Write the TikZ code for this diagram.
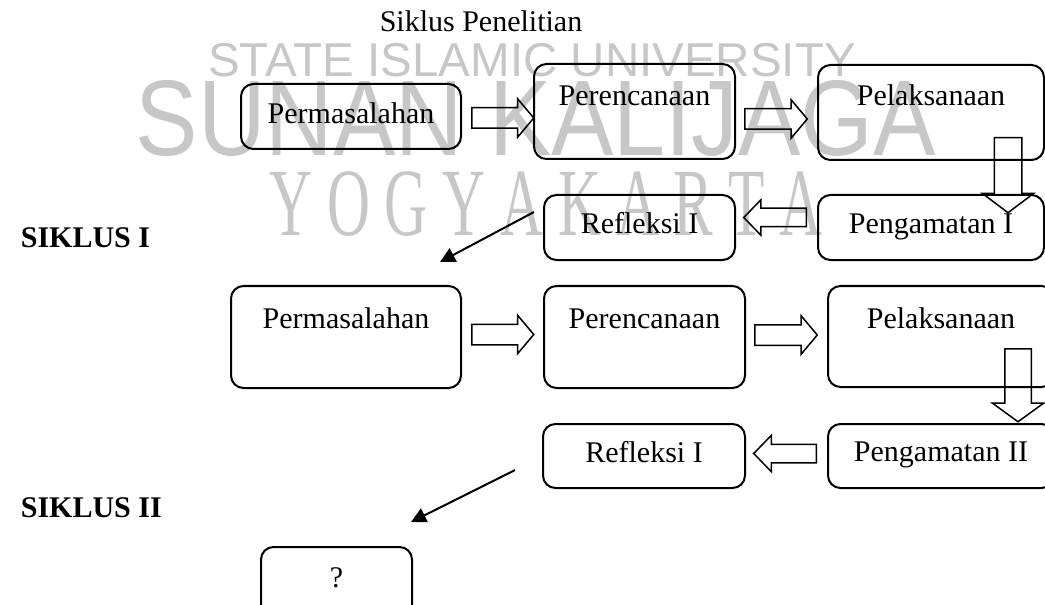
\documentclass[tikz,border=0pt]{standalone}
\usepackage{fontspec}
\setmainfont{Liberation Serif}
\newfontfamily\wmsans{Liberation Sans}
\usepackage{tikz}
\usetikzlibrary{arrows.meta, shapes.arrows}

\begin{document}
\begin{tikzpicture}[x=0.4pt, y=-0.4pt, font=\fontsize{12}{14}\selectfont,
  kotak/.style={draw, line width=0.8pt, rounded corners=5pt, inner sep=0pt, anchor=north west},
  blok/.style={single arrow, draw, line width=0.6pt, inner xsep=0pt, inner ysep=3.8pt, minimum width=0pt,
    minimum height=25pt, single arrow head extend=3.6pt, single arrow tip angle=100, anchor=tail},
  panah/.style={-{Triangle[length=6pt, width=6pt]}, line width=0.8pt},
  tanda/.style={text=black!22}]
  \useasboundingbox (0,0) rectangle (1045,605);

  % watermark
  \node[tanda, font=\wmsans\fontsize{19}{19}\selectfont] (wm1) at (532,60) {STATE ISLAMIC UNIVERSITY};
  \node[tanda, font=\wmsans\fontsize{43}{43}\selectfont, xscale=0.87] (wm2) at (536,118) {SUNAN KALIJAGA};
  \node[tanda, font=\fontsize{29}{29}\selectfont, xscale=0.82, yscale=1.33] (wm3) at (546,204) {Y O G Y A K A R T A};

  \node[anchor=base] (judul) at (481,32) {Siklus Penelitian};
  \node[anchor=base west, font=\fontsize{12}{14}\selectfont\bfseries] (s1) at (12,248) {SIKLUS I};
  \node[anchor=base west, font=\fontsize{12}{14}\selectfont\bfseries] (s2) at (12,517) {SIKLUS II};

  % siklus I
  \node[kotak, minimum width=88pt, text height=16pt, text depth=10pt] (perm1) at (240,83) {Permasalahan};
  \node[kotak, minimum width=80.4pt, text height=16.8pt, text depth=21.2pt] (renc1) at (533,63) {Perencanaan};
  \node[kotak, minimum width=90.4pt, text height=16.4pt, text depth=21.6pt] (pel1) at (817,64) {Pelaksanaan};
  \node[kotak, minimum width=90.4pt, text height=15.6pt, text depth=10.4pt] (peng1) at (817,194) {Pengamatan I};
  \node[kotak, minimum width=76.4pt, text height=15.6pt, text depth=10.4pt] (refl1) at (543,194) {Refleksi I};

  \node[blok, minimum height=24.8pt] (p1) at (471,118) {};
  \node[blok] (p2) at (744,119) {};
  \node[blok, minimum height=30pt, inner ysep=5.2pt, single arrow head extend=4.8pt, single arrow tip angle=106, rotate=-90] (p3) at (1008,137) {};
  \node[blok, inner ysep=3.4pt, single arrow head extend=3.4pt, single arrow tip angle=92, rotate=180] (p4) at (807,217.5) {};

  \coordinate (r1) at (534,212);
  \coordinate (n1) at (440,262);
  \draw[panah] (r1) -- (n1);

  % siklus II
  \node[kotak, minimum width=92pt, text height=16.8pt, text depth=24pt] (perm2) at (230,285) {Permasalahan};
  \node[kotak, minimum width=80.4pt, text height=16.8pt, text depth=24pt] (renc2) at (543,285) {Perencanaan};
  \node[kotak, minimum width=90.4pt, text height=16.8pt, text depth=23.6pt] (pel2) at (827,285) {Pelaksanaan};
  \node[kotak, minimum width=90.4pt, text height=14.8pt, text depth=10.8pt] (peng2) at (827,423) {Pengamatan II};
  \node[kotak, minimum width=80.8pt, text height=15.2pt, text depth=10.4pt] (refl2) at (542,423) {Refleksi I};
  \node[kotak, minimum width=60.4pt, text height=16pt, text depth=13.6pt] (tanya) at (260,546) {?};

  \node[blok, minimum height=24.8pt] (p5) at (471,334.5) {};
  \node[blok] (p6) at (754,335) {};
  \node[blok, minimum height=29.2pt, inner ysep=5pt, single arrow head extend=5pt, single arrow tip angle=108, rotate=-90] (p7) at (1018,348) {};
  \node[blok, inner ysep=3.4pt, single arrow head extend=3.6pt, single arrow tip angle=92, rotate=180] (p8) at (817,453.5) {};

  \coordinate (r2) at (515,470);
  \coordinate (n2) at (411,522);
  \draw[panah] (r2) -- (n2);
\end{tikzpicture}
\end{document}
